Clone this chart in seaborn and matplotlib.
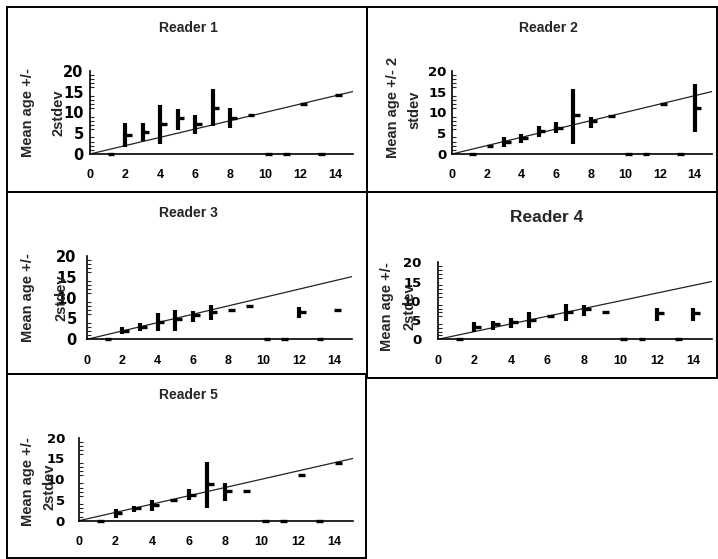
import matplotlib
matplotlib.use("Agg")
import matplotlib.pyplot as plt
from matplotlib.patches import Rectangle
import numpy as np
import seaborn as sns

sns.set_style("white")
plt.rcParams["font.family"] = ["Liberation Sans", "DejaVu Sans"]
plt.rcParams["font.weight"] = "bold"

# ---------------- data ----------------
ages = [1, 2, 3, 4, 5, 6, 7, 8, 9, 10, 11, 12, 13, 14]

r1_mean = [0, 4.6, 5.4, 7.2, 8.6, 7.2, 11.1, 8.7, 9.3, 0, 0, 12.0, 0, 14.2]
r1_low  = [0, 1.8, 3.2, 2.4, 5.8, 4.7, 6.7, 6.2, 9.3, 0, 0, 12.0, 0, 14.2]
r1_high = [0, 7.5, 7.5, 11.7, 10.9, 9.3, 15.5, 11.1, 9.3, 0, 0, 12.0, 0, 14.2]

r2_mean = [0, 2.0, 3.0, 3.9, 5.5, 6.3, 9.4, 8.0, 9.2, 0, 0, 12.0, 0, 11.1]
r2_low  = [0, 2.0, 1.8, 2.6, 4.0, 5.1, 2.4, 6.3, 9.2, 0, 0, 12.0, 0, 5.4]
r2_high = [0, 2.0, 4.2, 4.8, 6.7, 7.7, 15.5, 9.0, 9.2, 0, 0, 12.0, 0, 16.8]

r3_mean = [0, 2.1, 3.0, 4.2, 4.8, 5.8, 6.6, 7.0, 8.0, 0, 0, 6.5, 0, 7.0]
r3_low  = [0, 1.2, 2.1, 2.1, 2.1, 4.2, 4.6, 7.0, 8.0, 0, 0, 5.0, 0, 7.0]
r3_high = [0, 3.0, 4.0, 6.4, 7.0, 6.8, 8.2, 7.0, 8.0, 0, 0, 7.8, 0, 7.0]

r4_mean = [0, 3.3, 3.9, 4.6, 5.0, 6.1, 7.2, 7.8, 7.2, 0, 0, 6.8, 0, 6.8]
r4_low  = [0, 2.0, 2.4, 3.0, 2.9, 6.1, 4.8, 6.1, 7.2, 0, 0, 4.8, 0, 4.8]
r4_high = [0, 4.4, 4.8, 5.6, 7.2, 6.1, 9.2, 8.9, 7.2, 0, 0, 8.1, 0, 8.1]

r5_mean = [0, 1.8, 3.0, 3.8, 5.0, 6.3, 8.8, 7.2, 7.2, 0, 0, 11.0, 0, 14.0]
r5_low  = [0, 0.6, 2.2, 2.4, 5.0, 5.0, 3.0, 4.8, 7.2, 0, 0, 11.0, 0, 14.0]
r5_high = [0, 2.8, 3.6, 5.0, 5.0, 7.6, 14.2, 9.0, 7.2, 0, 0, 11.0, 0, 14.0]

ref_x = [0, 15]
ref_y = [0, 15]

titles = ["Reader 1", "Reader 2", "Reader 3", "Reader 4", "Reader 5"]
xtick_vals = list(range(16))
ytick_vals = [0, 5, 10, 15, 20]

readers = [
    (r1_mean, r1_low, r1_high),
    (r2_mean, r2_low, r2_high),
    (r3_mean, r3_low, r3_high),
    (r4_mean, r4_low, r4_high),
    (r5_mean, r5_low, r5_high),
]

# ---------------- layout (pixels) ----------------
W, H = 718, 559
fig = plt.figure(figsize=(W / 100, H / 100), dpi=100)
fig.patch.set_facecolor("white")

# x0, x15, y0, y20 in pixel coords (top-left origin)
axes_px = [
    (90, 353, 154, 70.7),
    (452, 712, 154, 70.7),
    (87, 352, 339.3, 255.7),
    (438, 711.5, 339.3, 262.3),
    (79, 353, 520.7, 437.7),
]
# y tick label pad (pt) and size (pt)
ytick_style = [(0.5, 10.5), (0.0, 9.5), (3.5, 10.5), (8.0, 9.5), (6.0, 9.5)]
panels_px = [
    (7, 7, 367, 192),
    (367, 7, 717, 192),
    (7, 192, 367, 374),
    (367, 192, 717, 378),
    (7, 374, 366, 558),
]
title_px = [(188, 28, 10), (548, 28, 10), (188, 213, 10), (547, 217, 12.5), (188, 395, 10)]
# (text, x, y)
ylab_px = [
    [("Mean age +/-", 28, 113), ("2stdev", 59, 113)],
    [("Mean age +/- 2", 393, 107), ("stdev", 414, 110)],
    [("Mean age +/-", 28, 298), ("2stdev", 62, 298)],
    [("Mean age +/-", 387, 307), ("2stdev", 410, 307)],
    [("Mean age +/-", 28, 482), ("2stdev", 50, 487)],
]

for (px0, py0, px1, py1) in panels_px:
    fig.patches.append(Rectangle((px0 / W, 1 - py1 / H), (px1 - px0) / W, (py1 - py0) / H,
                                 transform=fig.transFigure, fill=False,
                                 edgecolor="black", linewidth=1.4))

for i, ((x0, x15, y0, y20), (mean, low, high)) in enumerate(zip(axes_px, readers)):
    ax = fig.add_axes([x0 / W, 1 - y0 / H, (x15 - x0) / W, (y0 - y20) / H])
    ax.set_facecolor("none")
    sns.lineplot(x=ref_x, y=ref_y, ax=ax, color="#222222", linewidth=0.9)
    a = np.array(ages, dtype=float)
    ax.vlines(a, low, high, color="black", linewidth=3.0, clip_on=False)
    ax.hlines(mean, a, a + 0.38, color="black", linewidth=2.4, clip_on=False)

    ax.set_xlim(0, 15)
    ax.set_ylim(0, 20)
    for s in ["top", "right"]:
        ax.spines[s].set_visible(False)
    for s in ["left", "bottom"]:
        ax.spines[s].set_linewidth(1.2)
        ax.spines[s].set_color("black")
    ax.set_xticks(xtick_vals)
    ax.set_xticklabels([str(v) if (v % 2 == 0 and v < 15) else "" for v in xtick_vals])
    ax.set_yticks(ytick_vals)
    ax.set_yticklabels([str(v) for v in ytick_vals])
    ax.set_yticks(np.arange(1, 20), minor=True)
    ypad, ysize = ytick_style[i]
    ax.tick_params(axis="x", which="major", direction="inout", length=8, width=1.1,
                   pad=7, labelsize=9, colors="black")
    ax.tick_params(axis="y", which="major", direction="inout", length=8, width=1.1,
                   pad=ypad, labelsize=ysize, colors="black")
    ax.tick_params(axis="y", which="minor", direction="in", length=3, width=0.8, left=True)
    for lab in ax.get_xticklabels():
        lab.set_fontweight("bold")
    for lab in ax.get_yticklabels():
        lab.set_fontweight("bold")
        lab.set_family(["DejaVu Sans"])
    ax.set_xlabel("")
    ax.set_ylabel("")

    tx, ty, ts = title_px[i]
    fig.text(tx / W, 1 - ty / H, titles[i], ha="center", va="center",
             fontsize=ts, fontweight="bold")
    for (txt, lx, ly) in ylab_px[i]:
        fig.text(lx / W, 1 - ly / H, txt, ha="center", va="center", rotation=90,
                 fontsize=10.5, fontweight="bold")

fig.savefig("out.png", dpi=100, facecolor="white")
